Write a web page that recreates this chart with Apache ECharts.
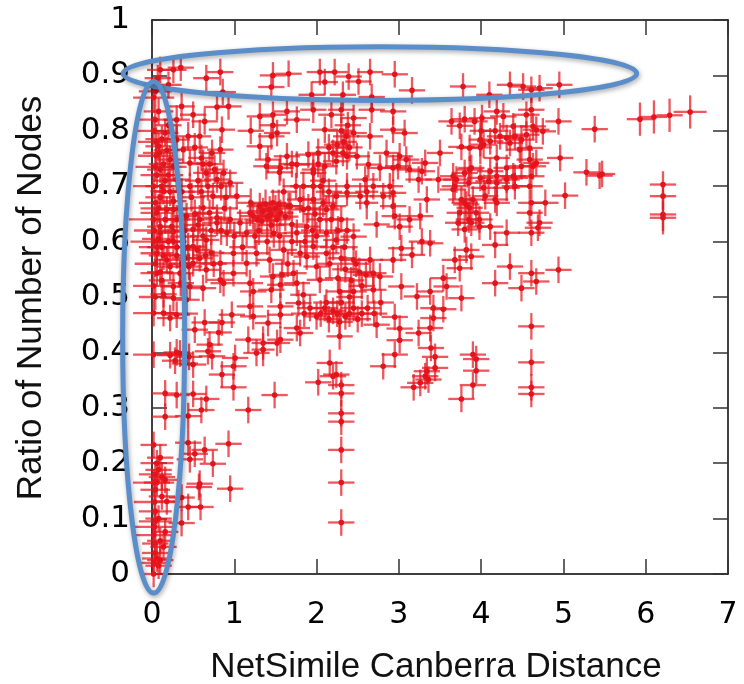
<!DOCTYPE html>
<html>
<head>
<meta charset="utf-8">
<script src="https://cdn.jsdelivr.net/npm/echarts@6/dist/echarts.min.js"></script>
<style>html,body{margin:0;padding:0;background:#fff}#c{width:744px;height:684px}</style>
</head>
<body>
<div id="c"></div>
<script>
// Each point: [distance, ratio, distanceErr, ratioErr]
const xTicks = [0, 1, 2, 3, 4, 5, 6, 7];
const yTicks = [0, 0.1, 0.2, 0.3, 0.4, 0.5, 0.6, 0.7, 0.8, 0.9, 1];
const xTitle = 'NetSimile Canberra Distance';
const yTitle = 'Ratio of Number of Nodes';

const topBand = [
[0.02,0.860,0.25,0.028],[0.04,0.871,0.20,0.026],[0.07,0.895,0.16,0.024],[0.10,0.910,0.16,0.024],
[0.20,0.883,0.16,0.024],[0.26,0.910,0.16,0.024],[0.35,0.914,0.16,0.024],[0.66,0.895,0.16,0.024],
[0.83,0.906,0.16,0.024],[0.86,0.870,0.16,0.024],[1.45,0.879,0.16,0.024],[1.47,0.900,0.16,0.024],
[1.66,0.903,0.16,0.024],[1.94,0.865,0.16,0.024],[2.04,0.906,0.16,0.024],[2.10,0.888,0.16,0.024],
[2.22,0.906,0.16,0.024],[2.32,0.865,0.16,0.024],[2.39,0.898,0.16,0.024],[2.51,0.889,0.16,0.024],
[2.65,0.906,0.16,0.024],[2.67,0.861,0.16,0.024],[2.95,0.902,0.16,0.024],[3.16,0.873,0.16,0.024],
[3.78,0.880,0.16,0.024],[4.10,0.865,0.16,0.024],[4.35,0.883,0.16,0.024],[4.51,0.880,0.16,0.024],
[4.61,0.874,0.16,0.024],[4.71,0.877,0.16,0.024],[4.95,0.883,0.16,0.024]
];

const upperMid = [
[0.04,0.820,0.22,0.026],[0.02,0.800,0.25,0.026],[0.08,0.835,0.18,0.024],[0.16,0.796,0.16,0.024],
[0.08,0.772,0.16,0.024],[0.12,0.785,0.20,0.024],[0.22,0.748,0.16,0.024],[0.10,0.730,0.16,0.024],
[0.05,0.755,0.22,0.024],[0.18,0.765,0.16,0.024],[0.30,0.784,0.16,0.024],[0.38,0.766,0.16,0.024],
[0.36,0.844,0.16,0.024],[0.50,0.829,0.16,0.024],[0.46,0.742,0.16,0.024],[0.30,0.712,0.16,0.024],
[0.64,0.817,0.16,0.024],[0.79,0.843,0.16,0.024],[0.93,0.844,0.16,0.024],[0.85,0.802,0.16,0.024],
[0.60,0.751,0.16,0.024],[0.73,0.760,0.16,0.024],[0.58,0.790,0.14,0.030],[0.66,0.724,0.16,0.024],
[0.79,0.712,0.16,0.024],[0.87,0.724,0.16,0.024],[0.95,0.706,0.16,0.024],[0.83,0.766,0.16,0.024],
[0.70,0.740,0.16,0.024],[1.31,0.826,0.16,0.024],[1.47,0.829,0.16,0.024],[1.47,0.810,0.16,0.024],
[1.52,0.796,0.16,0.024],[1.64,0.835,0.16,0.024],[1.76,0.820,0.16,0.024],[1.96,0.838,0.16,0.024],
[2.18,0.829,0.16,0.024],[2.30,0.838,0.16,0.024],[2.45,0.823,0.16,0.024],[2.67,0.838,0.16,0.024],
[2.93,0.835,0.16,0.024],[2.10,0.802,0.16,0.024],[2.65,0.790,0.16,0.024],[2.93,0.802,0.16,0.024],
[3.07,0.796,0.16,0.024],[2.30,0.800,0.16,0.024],[2.33,0.780,0.16,0.024],[2.36,0.790,0.16,0.024],
[2.40,0.770,0.16,0.024],[2.32,0.760,0.16,0.024],[2.38,0.810,0.16,0.024],[2.45,0.796,0.16,0.024],
[2.49,0.754,0.16,0.024],[1.31,0.772,0.16,0.024],[1.41,0.748,0.16,0.024],[1.56,0.733,0.16,0.024],
[1.64,0.754,0.16,0.024],[1.76,0.739,0.16,0.024],[1.90,0.757,0.16,0.024],[1.96,0.724,0.16,0.024],
[2.10,0.736,0.16,0.024],[2.24,0.745,0.16,0.024],[2.37,0.754,0.16,0.024],[2.63,0.739,0.16,0.024],
[2.77,0.733,0.16,0.024],[2.93,0.733,0.16,0.024],[3.09,0.748,0.16,0.024],[2.99,0.736,0.16,0.024],
[3.13,0.730,0.16,0.024],[3.28,0.727,0.16,0.024],[3.32,0.742,0.16,0.024],[3.50,0.760,0.16,0.024],
[3.48,0.712,0.16,0.024],[3.24,0.712,0.16,0.024],[2.59,0.712,0.16,0.024],[1.39,0.736,0.16,0.024],
[1.55,0.725,0.16,0.024],[1.70,0.740,0.16,0.024],[2.15,0.770,0.16,0.024],[2.20,0.760,0.16,0.024],
[2.25,0.775,0.16,0.024],[1.45,0.790,0.16,0.024],[1.20,0.800,0.16,0.024],[2.02,0.740,0.16,0.024],
[2.85,0.760,0.16,0.024],[3.01,0.754,0.16,0.024]
];

const middleLeft = [
[0.14,0.691,0.16,0.024],[0.04,0.670,0.20,0.024],[0.02,0.700,0.25,0.024],[0.06,0.720,0.20,0.024],
[0.26,0.658,0.16,0.024],[0.42,0.646,0.16,0.024],[0.46,0.700,0.16,0.024],[0.10,0.627,0.16,0.024],
[0.26,0.618,0.16,0.024],[0.50,0.622,0.16,0.024],[0.06,0.652,0.20,0.024],[0.18,0.658,0.16,0.024],
[0.26,0.673,0.16,0.024],[0.10,0.616,0.16,0.024],[0.24,0.627,0.16,0.024],[0.38,0.609,0.16,0.024],
[0.50,0.591,0.16,0.024],[0.18,0.567,0.16,0.024],[0.06,0.579,0.20,0.024],[0.06,0.543,0.20,0.024],
[0.34,0.543,0.16,0.024],[0.50,0.561,0.16,0.024],[0.02,0.600,0.28,0.024],[0.02,0.640,0.30,0.024],
[0.04,0.560,0.25,0.024],[0.12,0.590,0.18,0.024],[0.30,0.590,0.16,0.024],[0.36,0.690,0.16,0.024],
[0.16,0.710,0.16,0.024],[0.40,0.570,0.16,0.024],[0.08,0.605,0.20,0.024],[0.20,0.600,0.16,0.024],
[0.03,0.620,0.25,0.030],[0.10,0.680,0.18,0.024],[0.10,0.545,0.16,0.024],[0.22,0.555,0.16,0.024],
[0.30,0.575,0.16,0.024],[0.45,0.555,0.16,0.024],[0.55,0.585,0.16,0.024],[0.65,0.575,0.16,0.024],
[0.75,0.560,0.16,0.024],[0.12,0.530,0.16,0.024],[0.35,0.525,0.16,0.024],[0.02,0.520,0.25,0.024],
[0.04,0.500,0.20,0.024],[0.14,0.505,0.16,0.024],[0.62,0.661,0.16,0.024],[0.74,0.682,0.16,0.024],
[0.79,0.643,0.16,0.024],[0.66,0.603,0.16,0.024],[0.79,0.634,0.16,0.024],[0.70,0.652,0.16,0.024],
[0.91,0.616,0.16,0.024],[0.99,0.579,0.16,0.024],[1.03,0.682,0.16,0.024],[1.07,0.634,0.16,0.024],
[1.15,0.616,0.16,0.024],[0.83,0.561,0.16,0.024],[0.66,0.549,0.16,0.024],[0.60,0.690,0.16,0.024],
[0.88,0.660,0.16,0.024],[0.95,0.640,0.16,0.024],[0.56,0.630,0.16,0.024],[0.72,0.580,0.16,0.024],
[0.58,0.570,0.16,0.024]
];

const middleCentre = [
[1.19,0.652,0.16,0.024],[1.31,0.664,0.16,0.024],[1.47,0.670,0.16,0.024],[1.66,0.664,0.16,0.024],
[1.80,0.676,0.16,0.024],[1.33,0.637,0.16,0.024],[1.52,0.640,0.16,0.024],[1.70,0.631,0.16,0.024],
[1.23,0.646,0.16,0.024],[1.43,0.658,0.16,0.024],[1.56,0.652,0.16,0.024],[1.68,0.664,0.16,0.024],
[1.84,0.658,0.16,0.024],[1.96,0.676,0.16,0.024],[2.04,0.640,0.16,0.024],[2.20,0.664,0.16,0.024],
[2.12,0.616,0.16,0.024],[2.24,0.603,0.16,0.024],[1.96,0.591,0.16,0.024],[1.80,0.579,0.16,0.024],
[1.60,0.585,0.16,0.024],[1.43,0.567,0.16,0.024],[1.27,0.579,0.16,0.024],[1.15,0.561,0.16,0.024],
[1.76,0.616,0.16,0.024],[1.88,0.627,0.16,0.024],[2.12,0.658,0.16,0.024],[2.24,0.682,0.16,0.024],
[2.37,0.700,0.16,0.024],[2.53,0.682,0.16,0.024],[2.69,0.700,0.16,0.024],[2.81,0.682,0.16,0.024],
[2.93,0.664,0.16,0.024],[3.34,0.676,0.16,0.024],[3.26,0.646,0.16,0.024],[3.13,0.640,0.16,0.024],
[3.01,0.627,0.16,0.024],[1.96,0.700,0.14,0.030],[1.98,0.650,0.14,0.030],[1.95,0.620,0.14,0.030],
[1.96,0.730,0.14,0.030],[1.40,0.645,0.16,0.024],[1.35,0.655,0.16,0.024],[1.50,0.660,0.16,0.024],
[1.45,0.630,0.16,0.024],[1.60,0.690,0.16,0.024],[1.75,0.700,0.16,0.024],[2.05,0.700,0.16,0.024],
[2.15,0.690,0.16,0.024],[2.30,0.640,0.16,0.024],[2.45,0.609,0.16,0.024],[2.37,0.620,0.16,0.024],
[2.37,0.688,0.16,0.024],[2.61,0.670,0.14,0.030],[2.61,0.690,0.14,0.030],[2.89,0.700,0.16,0.024],
[2.93,0.688,0.16,0.024],[2.95,0.646,0.16,0.024],[2.73,0.631,0.16,0.024],[3.38,0.597,0.16,0.024],
[3.03,0.588,0.16,0.024],[3.16,0.576,0.16,0.024],[2.93,0.567,0.16,0.024],[2.69,0.543,0.16,0.024],
[3.28,0.600,0.16,0.024],[1.40,0.600,0.16,0.024],[1.25,0.610,0.16,0.024],[1.55,0.610,0.16,0.024],
[1.65,0.560,0.16,0.024],[2.30,0.570,0.16,0.024],[2.35,0.550,0.16,0.024],[2.42,0.530,0.16,0.024],
[2.48,0.560,0.16,0.024],[2.55,0.520,0.16,0.024],[2.60,0.540,0.16,0.024],[2.12,0.579,0.16,0.024],
[1.88,0.573,0.16,0.024],[2.45,0.567,0.16,0.024],[2.65,0.567,0.16,0.024],[2.00,0.555,0.16,0.024],
[2.20,0.590,0.16,0.024],[1.72,0.543,0.16,0.024],[1.47,0.537,0.16,0.024],[1.19,0.525,0.16,0.024],
[0.87,0.525,0.16,0.024],[0.99,0.543,0.16,0.024],[0.83,0.531,0.16,0.024],[0.62,0.516,0.16,0.024],
[0.46,0.519,0.16,0.024],[0.26,0.519,0.16,0.024],[0.42,0.495,0.16,0.024],[0.26,0.498,0.16,0.024],
[1.23,0.510,0.16,0.024],[1.45,0.513,0.16,0.024],[1.56,0.522,0.16,0.024],[1.76,0.525,0.16,0.024],
[1.84,0.504,0.16,0.024],[2.04,0.531,0.16,0.024],[2.26,0.534,0.16,0.024],[2.45,0.510,0.16,0.024],
[2.69,0.513,0.16,0.024],[2.77,0.537,0.16,0.024],[3.03,0.519,0.16,0.024],[3.22,0.501,0.16,0.024],
[3.38,0.510,0.16,0.024],[3.54,0.534,0.16,0.024],[3.58,0.519,0.16,0.024],[3.42,0.480,0.16,0.024],
[3.76,0.498,0.16,0.024]
];

// extra overlapping marks in the densest blobs
const denseFill = [
[0.05,0.780,0.22,0.026],[0.09,0.760,0.20,0.026],[0.14,0.740,0.18,0.026],[0.04,0.735,0.24,0.026],
[0.20,0.720,0.18,0.026],[0.26,0.735,0.16,0.026],[0.12,0.700,0.20,0.026],[0.08,0.660,0.22,0.026],
[0.16,0.640,0.18,0.026],[0.30,0.640,0.16,0.026],[0.34,0.660,0.16,0.026],[0.22,0.690,0.18,0.026],
[0.06,0.590,0.22,0.026],[0.14,0.575,0.18,0.026],[0.26,0.600,0.16,0.026],[0.40,0.620,0.16,0.026],
[0.44,0.590,0.16,0.026],[0.36,0.560,0.16,0.026],[0.52,0.650,0.16,0.026],[0.48,0.680,0.16,0.026],
[0.56,0.710,0.16,0.026],[0.62,0.740,0.16,0.026],[0.68,0.700,0.16,0.026],[0.76,0.730,0.16,0.026],
[0.84,0.700,0.16,0.026],[0.90,0.680,0.16,0.026],[0.72,0.620,0.16,0.026],[0.62,0.610,0.16,0.026],
[0.58,0.640,0.16,0.026],[0.84,0.620,0.16,0.026],[1.00,0.610,0.16,0.026],[1.10,0.590,0.16,0.026],
[1.28,0.640,0.16,0.026],[1.38,0.668,0.16,0.026],[1.44,0.648,0.16,0.026],[1.54,0.668,0.16,0.026],
[1.62,0.645,0.16,0.026],[1.30,0.620,0.16,0.026],[1.48,0.615,0.16,0.026],[1.20,0.670,0.16,0.026],
[1.84,0.700,0.16,0.026],[1.90,0.660,0.16,0.026],[2.00,0.610,0.16,0.026],[2.08,0.670,0.16,0.026],
[2.18,0.640,0.16,0.026],[2.26,0.620,0.16,0.026],[2.02,0.760,0.16,0.026],[2.08,0.710,0.16,0.026],
[1.86,0.600,0.16,0.026],[2.16,0.560,0.16,0.026],[2.28,0.510,0.16,0.026],[2.40,0.500,0.16,0.026],
[2.52,0.545,0.16,0.026],[2.34,0.590,0.16,0.026],[1.70,0.600,0.16,0.026],[1.58,0.540,0.16,0.026],
[0.30,0.820,0.16,0.026],[0.20,0.810,0.16,0.026],[0.44,0.790,0.16,0.026],[0.52,0.770,0.16,0.026]
];

const lowerBand = [
[1.19,0.483,0.16,0.024],[1.56,0.483,0.16,0.024],[1.78,0.489,0.16,0.024],[1.56,0.468,0.16,0.024],
[1.41,0.453,0.16,0.024],[1.76,0.444,0.16,0.024],[1.80,0.435,0.16,0.024],[1.85,0.470,0.16,0.024],
[1.92,0.480,0.16,0.024],[2.00,0.465,0.16,0.024],[2.05,0.470,0.16,0.024],[2.10,0.480,0.16,0.024],
[2.15,0.460,0.16,0.024],[2.20,0.475,0.16,0.024],[2.25,0.470,0.16,0.024],[2.30,0.490,0.16,0.024],
[2.35,0.465,0.16,0.024],[2.40,0.470,0.16,0.024],[2.45,0.480,0.16,0.024],[2.50,0.460,0.16,0.024],
[2.55,0.470,0.16,0.024],[2.62,0.480,0.16,0.024],[2.70,0.470,0.16,0.024],[2.78,0.490,0.16,0.024],
[2.12,0.490,0.16,0.024],[2.28,0.455,0.16,0.024],[2.28,0.429,0.16,0.024],[2.73,0.450,0.16,0.024],
[2.95,0.464,0.16,0.024],[3.01,0.443,0.16,0.024],[3.01,0.422,0.16,0.024],[2.95,0.396,0.16,0.024],
[2.81,0.375,0.16,0.024],[3.24,0.435,0.16,0.024],[3.38,0.444,0.16,0.024],[3.42,0.462,0.16,0.024],
[3.54,0.478,0.16,0.024],[3.39,0.408,0.16,0.024],[3.44,0.392,0.16,0.024],[3.44,0.372,0.16,0.024],
[3.34,0.366,0.16,0.024],[3.36,0.351,0.16,0.024],[3.26,0.345,0.16,0.024],[3.18,0.337,0.16,0.024],
[3.32,0.357,0.16,0.024],[3.90,0.396,0.16,0.024],[3.94,0.388,0.16,0.024],[3.94,0.367,0.16,0.024],
[3.90,0.341,0.16,0.024],[3.76,0.316,0.16,0.024],[4.61,0.447,0.16,0.024],[4.61,0.382,0.16,0.024],
[4.61,0.337,0.16,0.024],[4.61,0.325,0.16,0.024],[2.30,0.341,0.16,0.024],[2.30,0.326,0.16,0.024],
[2.30,0.290,0.16,0.024],[2.30,0.275,0.16,0.024],[2.30,0.224,0.16,0.024],[2.30,0.165,0.16,0.024],
[2.30,0.093,0.16,0.024],[2.16,0.381,0.16,0.024],[2.20,0.357,0.16,0.024],[2.24,0.360,0.16,0.024],
[2.02,0.346,0.16,0.024]
];

const lowerLeft = [
[0.02,0.471,0.25,0.024],[0.14,0.471,0.16,0.024],[0.30,0.468,0.16,0.024],[0.22,0.462,0.16,0.024],
[0.40,0.470,0.16,0.024],[0.64,0.454,0.16,0.024],[0.85,0.454,0.16,0.024],[0.81,0.436,0.16,0.024],
[0.97,0.468,0.16,0.024],[1.23,0.465,0.16,0.024],[0.52,0.441,0.16,0.024],[0.70,0.414,0.16,0.024],
[0.68,0.402,0.16,0.024],[0.73,0.393,0.16,0.024],[0.22,0.395,0.16,0.024],[0.28,0.385,0.16,0.024],
[0.34,0.398,0.16,0.024],[0.40,0.380,0.16,0.024],[0.45,0.392,0.16,0.024],[0.50,0.378,0.16,0.024],
[0.30,0.400,0.16,0.024],[0.02,0.396,0.25,0.024],[0.85,0.360,0.16,0.024],[1.01,0.390,0.16,0.024],
[0.99,0.375,0.16,0.024],[0.99,0.337,0.16,0.024],[1.17,0.423,0.16,0.024],[1.35,0.417,0.14,0.030],
[1.35,0.405,0.14,0.030],[1.52,0.417,0.16,0.024],[1.56,0.423,0.16,0.024],[1.27,0.399,0.16,0.024],
[1.49,0.323,0.16,0.024],[1.17,0.296,0.16,0.024],[0.16,0.326,0.16,0.024],[0.30,0.323,0.16,0.024],
[0.50,0.325,0.16,0.024],[0.66,0.316,0.16,0.024],[0.60,0.296,0.16,0.024],[0.16,0.284,0.16,0.024],
[0.44,0.285,0.16,0.024],[0.02,0.233,0.16,0.024],[0.44,0.237,0.16,0.024],[0.52,0.217,0.16,0.024],
[0.64,0.224,0.16,0.024],[0.46,0.207,0.16,0.024],[0.93,0.235,0.16,0.024],[0.74,0.199,0.16,0.024],
[0.08,0.188,0.16,0.024],[0.16,0.170,0.16,0.024],[0.04,0.152,0.18,0.024],[0.58,0.163,0.16,0.024],
[0.57,0.157,0.16,0.024],[0.95,0.154,0.16,0.024],[0.36,0.138,0.16,0.024],[0.18,0.131,0.16,0.024],
[0.44,0.121,0.16,0.024],[0.59,0.121,0.16,0.024],[0.04,0.113,0.20,0.024],[0.04,0.095,0.20,0.024],
[0.36,0.092,0.16,0.024],[0.16,0.076,0.16,0.024],[0.04,0.055,0.16,0.024],[0.14,0.049,0.16,0.024],
[0.04,0.038,0.16,0.024],[0.06,0.028,0.18,0.024],[0.02,0.020,0.20,0.024],[0.08,0.015,0.16,0.024],
[0.02,0.000,0.16,0.024],[0.10,0.025,0.16,0.024],[0.04,0.180,0.20,0.024],[0.06,0.200,0.20,0.024],
[0.10,0.210,0.16,0.024],[0.12,0.140,0.16,0.024],[0.03,0.130,0.25,0.024],[0.08,0.100,0.16,0.024],
[0.02,0.070,0.25,0.024],[0.10,0.060,0.16,0.024],[0.12,0.175,0.16,0.024],[0.06,0.165,0.16,0.024],
[0.02,0.165,0.25,0.024],[0.03,0.085,0.25,0.024]
];

const rightCluster = [
[3.64,0.817,0.16,0.024],[3.74,0.809,0.16,0.024],[3.80,0.821,0.16,0.024],[4.01,0.823,0.16,0.024],
[3.99,0.784,0.14,0.030],[3.99,0.770,0.14,0.030],[4.00,0.800,0.14,0.030],[4.19,0.835,0.16,0.024],
[4.17,0.800,0.16,0.024],[4.23,0.790,0.16,0.024],[4.31,0.787,0.16,0.024],[4.41,0.790,0.16,0.024],
[4.49,0.784,0.16,0.024],[4.55,0.829,0.16,0.024],[4.61,0.838,0.16,0.024],[4.63,0.808,0.16,0.024],
[4.67,0.802,0.16,0.024],[4.75,0.799,0.16,0.024],[4.94,0.817,0.16,0.024],[4.96,0.751,0.16,0.024],
[5.38,0.803,0.16,0.024],[5.28,0.725,0.16,0.024],[5.44,0.719,0.16,0.024],[5.47,0.722,0.16,0.024],
[5.02,0.683,0.16,0.024],[3.76,0.771,0.16,0.024],[3.86,0.769,0.16,0.024],[4.03,0.775,0.16,0.024],
[4.11,0.781,0.16,0.024],[4.35,0.778,0.16,0.024],[4.47,0.766,0.16,0.024],[4.59,0.769,0.16,0.024],
[4.59,0.748,0.16,0.024],[4.67,0.742,0.16,0.024],[4.19,0.751,0.16,0.024],[4.31,0.733,0.16,0.024],
[4.49,0.736,0.16,0.024],[4.61,0.718,0.16,0.024],[4.41,0.715,0.16,0.024],[4.11,0.727,0.16,0.024],
[3.99,0.715,0.16,0.024],[3.88,0.733,0.16,0.024],[3.80,0.724,0.16,0.024],[3.66,0.718,0.16,0.024],
[3.68,0.700,0.16,0.024],[3.76,0.676,0.16,0.024],[3.82,0.667,0.16,0.024],[3.86,0.661,0.16,0.024],
[3.74,0.652,0.16,0.024],[3.85,0.640,0.16,0.024],[3.88,0.634,0.16,0.024],[3.80,0.622,0.16,0.024],
[3.72,0.634,0.16,0.024],[4.11,0.627,0.16,0.024],[3.82,0.585,0.16,0.024],[3.88,0.573,0.16,0.024],
[3.74,0.552,0.16,0.024],[3.68,0.567,0.16,0.024],[4.03,0.697,0.16,0.024],[4.19,0.706,0.16,0.024],
[4.17,0.676,0.16,0.024],[4.31,0.697,0.16,0.024],[4.41,0.700,0.16,0.024],[4.59,0.700,0.16,0.024],
[4.61,0.670,0.16,0.024],[4.78,0.670,0.16,0.024],[4.59,0.652,0.16,0.024],[4.61,0.616,0.16,0.024],
[4.69,0.625,0.16,0.024],[4.31,0.616,0.16,0.024],[4.17,0.594,0.16,0.024],[4.35,0.555,0.16,0.024],
[4.61,0.543,0.16,0.024],[4.67,0.528,0.16,0.024],[4.49,0.516,0.16,0.024],[4.94,0.549,0.16,0.024],
[3.98,0.627,0.16,0.024],[3.94,0.652,0.16,0.024],[3.90,0.676,0.16,0.024],[4.05,0.682,0.16,0.024],
[4.09,0.709,0.16,0.024],[4.19,0.670,0.16,0.024],[4.71,0.634,0.16,0.024],[4.17,0.525,0.16,0.024],
[3.70,0.712,0.16,0.024],[3.86,0.730,0.16,0.024],[4.27,0.826,0.16,0.024],[4.39,0.808,0.16,0.024],
[4.55,0.793,0.16,0.024],[4.63,0.736,0.16,0.024],[4.39,0.718,0.16,0.024],[4.31,0.712,0.16,0.024],
[4.19,0.718,0.16,0.024],[3.85,0.706,0.16,0.024],[3.66,0.694,0.16,0.024],[3.80,0.670,0.16,0.024],
[3.98,0.640,0.16,0.024],[3.92,0.817,0.16,0.024]
];

const farRight = [
[5.93,0.821,0.16,0.030],[6.10,0.825,0.16,0.030],[6.29,0.828,0.16,0.030],[6.54,0.834,0.20,0.030],
[6.21,0.703,0.16,0.024],[6.21,0.682,0.16,0.024],[6.21,0.649,0.16,0.030],[6.21,0.643,0.16,0.030]
];

// annotation ellipses in data units: [centreX, centreY, radiusX, radiusY]
const topEllipse = [2.77, 0.9033, 3.12, 0.0485];
const leftEllipse = [0.02, 0.4273, 0.377, 0.4616];

const allPoints = [].concat(topBand, upperMid, middleLeft, middleCentre, denseFill, lowerBand, lowerLeft, rightCluster, farRight);

const chart = echarts.init(document.getElementById('c'), null, {renderer: 'canvas'});

const barColor = 'rgba(230,22,30,0.72)';
const dotColor = '#e3141c';

function renderItem(params, api) {
  const x = api.value(0), y = api.value(1), xe = api.value(2), ye = api.value(3);
  const c = api.coord([x, y]);
  const l = api.coord([x - xe, y]);
  const r = api.coord([x + xe, y]);
  const t = api.coord([x, y + ye]);
  const b = api.coord([x, y - ye]);
  return {
    type: 'group',
    children: [
      {type: 'line', shape: {x1: l[0], y1: l[1], x2: r[0], y2: r[1]}, style: {stroke: barColor, lineWidth: 2.3}},
      {type: 'line', shape: {x1: t[0], y1: t[1], x2: b[0], y2: b[1]}, style: {stroke: barColor, lineWidth: 2.3}},
      {type: 'circle', shape: {cx: c[0], cy: c[1], r: 2.8}, style: {fill: dotColor}}
    ]
  };
}

const axisLineStyle = {color: '#000', width: 1.5};
const tickStyle = {color: '#333', width: 1.5};

chart.setOption({
  animation: false,
  backgroundColor: '#fff',
  grid: {left: 152, right: 16, top: 20, bottom: 110, containLabel: false},
  xAxis: [
    {type: 'value', min: xTicks[0], max: xTicks[xTicks.length - 1], interval: 1, position: 'bottom',
     axisLine: {show: true, onZero: false, lineStyle: axisLineStyle},
     axisTick: {show: true, inside: true, length: 15, lineStyle: tickStyle},
     axisLabel: {fontFamily: 'DejaVu Sans', fontSize: 30, color: '#000', margin: 26,
                 formatter: v => String(xTicks.find(t => Math.abs(t - v) < 1e-9))},
     splitLine: {show: false}},
    {type: 'value', min: xTicks[0], max: xTicks[xTicks.length - 1], interval: 1, position: 'top',
     axisLine: {show: true, onZero: false, lineStyle: axisLineStyle},
     axisTick: {show: true, inside: true, length: 15, lineStyle: tickStyle},
     axisLabel: {show: false}, splitLine: {show: false}}
  ],
  yAxis: [
    {type: 'value', min: yTicks[0], max: yTicks[yTicks.length - 1], interval: 0.1, position: 'left',
     axisLine: {show: true, onZero: false, lineStyle: axisLineStyle},
     axisTick: {show: true, inside: true, length: 15, lineStyle: tickStyle},
     axisLabel: {fontFamily: 'DejaVu Sans', fontSize: 31, color: '#000', margin: 22,
                 formatter: v => { const t = yTicks.find(k => Math.abs(k - v) < 1e-9); return t === undefined ? '' : String(t); }},
     splitLine: {show: false}},
    {type: 'value', min: yTicks[0], max: yTicks[yTicks.length - 1], interval: 0.1, position: 'right',
     axisLine: {show: true, onZero: false, lineStyle: axisLineStyle},
     axisTick: {show: true, inside: true, length: 15, lineStyle: tickStyle},
     axisLabel: {show: false}, splitLine: {show: false}}
  ],
  series: [{
    type: 'custom',
    xAxisIndex: 0, yAxisIndex: 0,
    renderItem: renderItem,
    encode: {x: 0, y: 1},
    clip: false,
    data: allPoints
  }]
});

function ellipseGraphic(e) {
  const c = chart.convertToPixel({gridIndex: 0}, [e[0], e[1]]);
  const rx = chart.convertToPixel({gridIndex: 0}, [e[0] + e[2], e[1]])[0] - c[0];
  const ry = c[1] - chart.convertToPixel({gridIndex: 0}, [e[0], e[1] + e[3]])[1];
  return {
    type: 'ellipse', z: 100,
    shape: {cx: c[0], cy: c[1], rx: rx, ry: ry},
    style: {fill: 'none', stroke: '#5b8dc8', lineWidth: 5,
            shadowBlur: 5, shadowColor: 'rgba(0,0,0,0.35)', shadowOffsetX: 1, shadowOffsetY: 2}
  };
}

chart.setOption({
  graphic: [
    ellipseGraphic(topEllipse),
    ellipseGraphic(leftEllipse),
    {type: 'text', z: 100, x: 436, y: 667,
     style: {text: xTitle, fontFamily: 'Liberation Sans', fontSize: 35, fill: '#111',
             textAlign: 'center', textVerticalAlign: 'middle'}},
    {type: 'text', z: 100, x: 31, y: 298, rotation: Math.PI / 2,
     style: {text: yTitle, fontFamily: 'Liberation Sans', fontSize: 35, fill: '#111',
             textAlign: 'center', textVerticalAlign: 'middle'}}
  ]
});
</script>
</body>
</html>
